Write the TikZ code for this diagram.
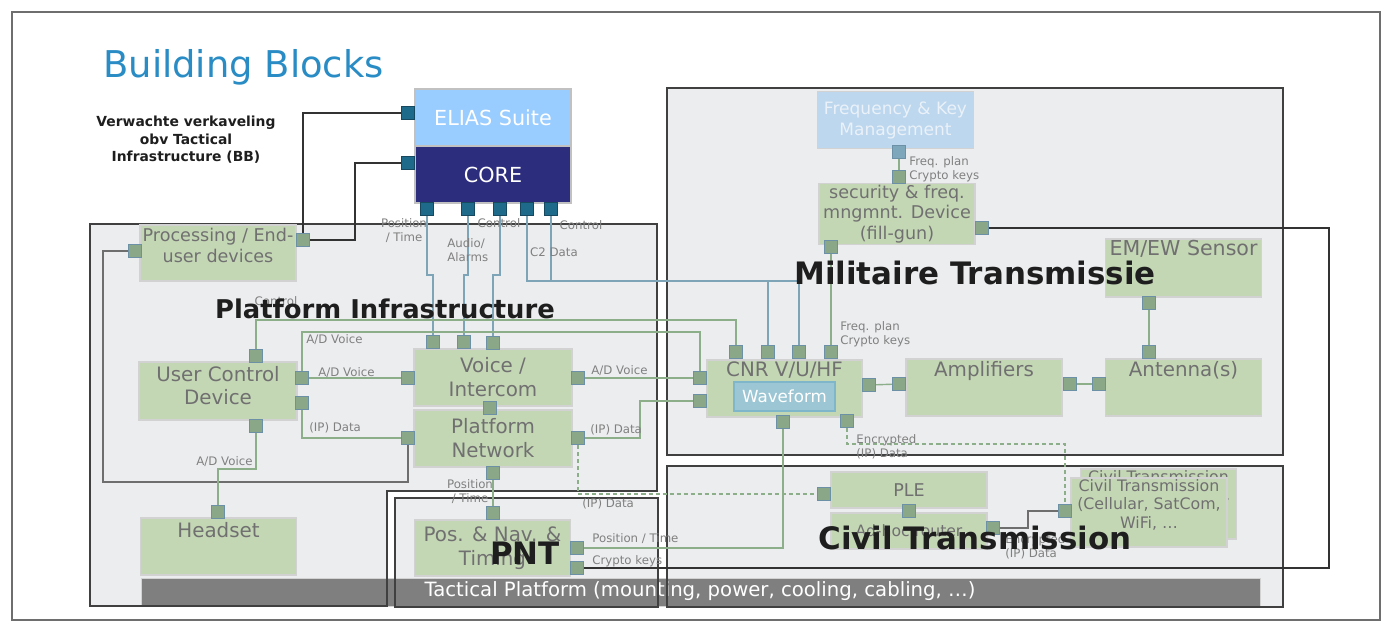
\documentclass[tikz,border=0pt]{standalone}
\usepackage{fontspec}
\setmainfont{DejaVu Sans}
\usetikzlibrary{positioning}

\definecolor{areafill}{RGB}{236,237,239}
\definecolor{arealine}{RGB}{64,64,64}
\definecolor{boxfill}{RGB}{196,215,181}
\definecolor{boxline}{RGB}{210,210,210}
\definecolor{boxtext}{RGB}{112,112,112}
\definecolor{portfill}{RGB}{138,168,136}
\definecolor{portline}{RGB}{108,144,166}
\definecolor{coreport}{RGB}{30,106,138}
\definecolor{coreedge}{RGB}{22,72,96}
\definecolor{fkport}{RGB}{127,167,187}
\definecolor{greenwire}{RGB}{140,174,137}
\definecolor{bluewire}{RGB}{126,164,184}
\definecolor{darkwire}{RGB}{50,50,50}
\definecolor{graywire}{RGB}{110,110,110}
\definecolor{labelgray}{RGB}{128,128,128}
\definecolor{titleblue}{RGB}{42,140,196}
\definecolor{eliasfill}{RGB}{153,204,255}
\definecolor{corefill}{RGB}{45,45,126}
\definecolor{fkfill}{RGB}{189,215,238}
\definecolor{fktext}{RGB}{234,241,248}
\definecolor{wavefill}{RGB}{156,198,212}
\definecolor{waveedge}{RGB}{128,182,202}
\definecolor{barfill}{RGB}{127,127,127}
\definecolor{bigtext}{RGB}{30,30,30}

\tikzset{
  areaedge/.style={draw=arealine, line width=0.7pt},
  gbox/.style={draw=boxline, fill=boxfill, line width=0.9pt, minimum width=3.12cm,
    minimum height=1.14cm, inner sep=1pt, text=boxtext, align=center,
    font=\fontsize{11.3}{13.6}\selectfont},
  toptext/.style={anchor=north, inner sep=1.5pt, text=boxtext, align=center,
    font=\fontsize{11.3}{13.6}\selectfont},
  port/.style={draw=portline, fill=portfill, line width=0.6pt, minimum size=0.26cm, inner sep=0pt},
  cport/.style={port, draw=coreedge, fill=coreport},
  gwire/.style={draw=greenwire, line width=0.8pt},
  cwire/.style={draw=bluewire, line width=0.8pt},
  dwire/.style={draw=darkwire, line width=0.8pt},
  pwire/.style={draw=graywire, line width=0.8pt},
  dashwire/.style={gwire, dash pattern=on 2.3pt off 1.7pt},
  wlabel/.style={text=labelgray, font=\fontsize{6.7}{7.9}\selectfont, inner sep=0pt},
  blocktitle/.style={text=bigtext, font=\bfseries\fontsize{17.6}{20}\selectfont, inner sep=0pt}
}

\begin{document}
\begin{tikzpicture}[x=0.02cm, y=-0.02cm]
\useasboundingbox (0,0) rectangle (1391,633);
\draw[graywire, line width=0.6pt] (12,12) rectangle (1380,620);

\fill[areafill] (90,224) -- (657,224) -- (657,491) -- (387,491) -- (387,606) -- (90,606) -- cycle;
\fill[areafill] (395,498) rectangle (658,607);
\fill[areafill] (667,88) rectangle (1283,455);
\fill[areafill] (667,466) rectangle (1283,607);
\draw[draw=boxline, fill=barfill] (141,578) rectangle (1260,606);
\node[text=white, font=\fontsize{11.2}{13}\selectfont] (tactical) at (700,591) {Tactical Platform (mounting, power, cooling, cabling, \dots)};
\draw[areaedge] (90,224) -- (657,224) -- (657,491) -- (387,491) -- (387,606) -- (90,606) -- cycle;
\draw[areaedge] (395,498) rectangle (658,607);
\draw[areaedge] (667,88) rectangle (1283,455);
\draw[areaedge] (667,466) rectangle (1283,607);

\node[anchor=west, text=titleblue, font=\fontsize{21}{25}\selectfont, inner sep=0pt] (title) at (103,67) {Building Blocks};
\node[align=center, text=bigtext, font=\bfseries\fontsize{7.9}{9.9}\selectfont] (note) at (186,140) {Verwachte verkaveling\\obv Tactical\\Infrastructure (BB)};

% blocks
\node[gbox, draw=boxline!80!gray, fill=eliasfill, text=white, font=\fontsize{11.8}{14}\selectfont] (elias) at (493,117.5) {ELIAS Suite};
\node[gbox, draw=boxline!80!gray, fill=corefill, text=white, font=\fontsize{11.8}{14}\selectfont] (core) at (493,174.5) {CORE};
\node[gbox, minimum height=1.12cm, label={[toptext, inner sep=2pt, font=\fontsize{10}{12}\selectfont]north:Processing / End-\\user devices}] (proc) at (218,253) {};
\node[gbox, minimum width=3.16cm, minimum height=1.16cm, label={[toptext, inner sep=2.5pt]north:User Control\\Device}] (ucd) at (218,391) {};
\node[gbox, label={[toptext, inner sep=2.5pt]north:Headset}] (headset) at (218.5,546.5) {};
\node[gbox, minimum width=3.16cm] (voice) at (493,377.5) {Voice /\\Intercom};
\node[gbox, minimum width=3.16cm] (net) at (493,438.5) {Platform\\Network};
\node[gbox, minimum height=1.12cm] (pnt) at (492.5,548) {Pos. \& Nav. \&\\Timing};
\node[gbox, fill=fkfill, text=fktext, font=\fontsize{9.7}{11.9}\selectfont] (fkm) at (895.5,120) {Frequency \& Key\\Management};
\node[gbox, font=\fontsize{10}{11.6}\selectfont] (fillgun) at (897,214) {security \& freq.\\mngmnt. Device\\(fill-gun)};
\node[gbox, minimum height=1.16cm, label={[toptext, inner sep=1pt, font=\fontsize{11.7}{14}\selectfont]north:EM/EW Sensor}] (emew) at (1183.5,268) {};
\node[gbox, minimum width=3.1cm, label={[toptext]north:CNR V/U/HF}] (cnr) at (784.5,388.5) {};
\node[draw=waveedge, fill=wavefill, text=white, line width=0.8pt, minimum width=2.02cm, minimum height=0.58cm, inner sep=0pt, font=\fontsize{9.5}{11}\selectfont] (wave) at (784.5,396.5) {Waveform};
\node[gbox, label={[toptext]north:Amplifiers}] (amp) at (984,387.5) {};
\node[gbox, label={[toptext]north:Antenna(s)}] (ant) at (1183.5,387.5) {};
\node[gbox, minimum height=0.72cm, font=\fontsize{10}{12}\selectfont] (ple) at (909,490) {PLE};
\node[gbox, minimum height=0.72cm, font=\fontsize{8.9}{11}\selectfont] (adhoc) at (909,531) {Ad-hoc router};
\node[gbox, minimum height=1.4cm, label={[toptext, inner sep=1pt, font=\fontsize{9}{10.5}\selectfont]north:Civil Transmission\\{(Cellular, SatCom,}\\{WiFi, \dots}}] (civback) at (1158.5,504) {};
\node[gbox, minimum height=1.38cm, label={[toptext, inner sep=1pt, font=\fontsize{9}{10.5}\selectfont]north:Civil Transmission\\{(Cellular, SatCom,}\\{WiFi, \dots}}] (civil) at (1149,512.5) {};

% ports
\node[cport] (pElias) at (408,113) {};
\node[cport] (pCore) at (408,163) {};
\foreach \n/\x in {1/427,2/468,3/500,4/527,5/551}
  \node[cport] (core\n) at (\x,209) {};
\node[port, fill=fkport] (fkB) at (899,152) {};
\foreach \n/\x/\y in {procR/303/240, procL/135/251, ucT/256/356, ucR1/302/378, ucR2/302/403, ucB/256/426,
    vT1/433/342, vT2/464/342, vT3/493/343, vL/408/378, vR/578/378, vB/490/408,
    nL/408/438, nR/578/438, nB/493/473, hsT/218/512, pntT/493/513, pntR1/577/548, pntR2/577/568,
    fgT/899/177, fgR/982/228, fgB/831/247, emB/1149/303,
    cnrT1/736/352, cnrT2/768/352, cnrT3/799/352, cnrT4/831/352, cnrL1/700/378, cnrL2/700/401,
    cnrR/869/385, cnrB1/783/422, cnrB2/847/421, ampL/899/384, ampR/1070/384,
    antL/1099/384, antT/1149/352, pleL/824/494, pleB/909/511, ahR/993/528, civL/1065/511}
  \node[port] (\n) at (\x,\y) {};

% wires
\draw[dwire] (pElias) -| (procR);
\draw[dwire] (pCore) -| (355,240) -- (procR);
\draw[pwire] (procL) -| (103,482) -| (nL);
\draw[cwire] (core1) |- (433,275) -- (vT1);
\draw[cwire] (core2) |- (464,275) -- (vT2);
\draw[cwire] (core3) |- (493,275) -- (vT3);
\draw[cwire] (core4) |- (768,281) -- (cnrT2);
\draw[cwire] (core5) |- (799,281) -- (cnrT3);
\draw[gwire] (fkB) -- (fgT);
\draw[gwire] (fgB) -- (cnrT4);
\draw[dwire] (fgR) -| (1329,568) -- (pntR2);
\draw[gwire] (ucT) |- (736,320) -- (cnrT1);
\draw[gwire] (ucR1) |- (700,332) -- (cnrL1);
\draw[gwire] (ucR1) -- (vL);
\draw[gwire] (ucR2) |- (nL);
\draw[gwire] (ucB) |- (218,469) -- (hsT);
\draw[gwire] (vR) -- (cnrL1);
\draw[gwire] (nR) -| (640,401) -- (cnrL2);
\draw[dashwire] (nR) |- (pleL);
\draw[gwire] (nB) -- (pntT);
\draw[gwire] (pntR1) -| (cnrB1);
\draw[gwire] (cnrR) -- (ampL);
\draw[gwire] (ampR) -- (antL);
\draw[gwire] (emB) -- (antT);
\draw[dashwire] (cnrB2) |- (1065,444) -- (civL);
\draw[pwire] (ahR) -| (1028,511) -- (civL);

% wire labels
\node[wlabel, align=center] (tPos1) at (404,230.5) {Position\\/ Time};
\node[wlabel, align=left, anchor=west] (tAudio) at (447,250) {Audio/\\Alarms};
\node[wlabel] (tCtrl1) at (499,223) {Control};
\node[wlabel] (tCtrl2) at (581,225) {Control};
\node[wlabel] (tC2) at (554,252) {C2 Data};
\node[wlabel, align=left, anchor=west] (tFreq1) at (909,169) {Freq. plan\\Crypto keys};
\node[wlabel] (tCtrl3) at (276,301) {Control};
\node[wlabel, anchor=west] (tVoice1) at (306,340) {A/D Voice};
\node[wlabel, anchor=west] (tVoice2) at (318,373) {A/D Voice};
\node[wlabel, anchor=west] (tData1) at (309,428) {(IP) Data};
\node[wlabel, anchor=west] (tVoice3) at (196,462) {A/D Voice};
\node[wlabel, anchor=west] (tVoice4) at (591,371) {A/D Voice};
\node[wlabel, anchor=west] (tData2) at (590,430) {(IP) Data};
\node[wlabel, align=center] (tPos2) at (470,491.5) {Position\\/ Time};
\node[wlabel, anchor=west] (tData3) at (582,504) {(IP) Data};
\node[wlabel, align=left, anchor=west] (tFreq2) at (840,334.5) {Freq. plan\\Crypto keys};
\node[wlabel, align=left, anchor=west] (tEnc1) at (856,447) {Encrypted\\(IP) Data};
\node[wlabel, anchor=west] (tPos3) at (592,539) {Position / Time};
\node[wlabel, anchor=west] (tKeys) at (592,561) {Crypto keys};
\node[wlabel, align=left, anchor=west] (tEnc2) at (1005,547) {Encrypted\\(IP) Data};

% area titles
\node[blocktitle, font=\bfseries\fontsize{14.7}{17}\selectfont] (infraT) at (385,309) {Platform Infrastructure};
\node[blocktitle] (milT) at (975,273) {Militaire Transmissie};
\node[blocktitle] (pntT2) at (525,553) {PNT};
\node[blocktitle] (civT) at (975,538) {Civil Transmission};
\end{tikzpicture}
\end{document}
